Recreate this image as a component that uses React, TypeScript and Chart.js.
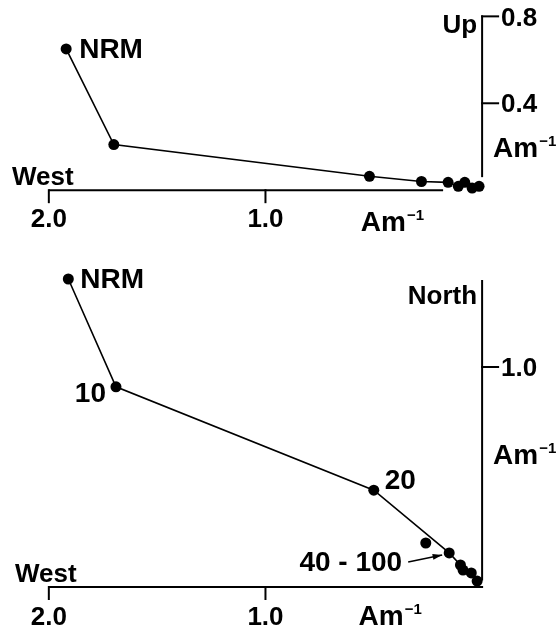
import React, { useEffect, useRef } from "react";
import { Chart, registerables } from "chart.js";

Chart.register(...registerables);

// ---- data (West component magnitude, vertical component), Am^-1 ----
const topWest = [1.92, 1.7, 0.52, 0.28, 0.157, 0.11, 0.08, 0.046, 0.014];
const topUp = [0.65, 0.21, 0.064, 0.04, 0.036, 0.018, 0.036, 0.01, 0.018];
const bottomWest = [1.91, 1.69, 0.5, 0.26, 0.152, 0.1, 0.088, 0.05, 0.023];
const bottomNorth = [1.4, 0.91, 0.44, 0.2, 0.155, 0.1, 0.077, 0.064, 0.027];
const bottomConnected = [true, true, true, false, true, true, true, true, true];
const xTicks = [2.0, 1.0];
const xTickLabels = ["2.0", "1.0"];
const topYTicks = [0.8, 0.4];
const topYTickLabels = ["0.8", "0.4"];
const bottomYTicks = [1.0];
const bottomYTickLabels = ["1.0"];

const FONT = '"Liberation Sans", Arial, Helvetica, sans-serif';

function drawAm(ctx: CanvasRenderingContext2D, x: number, y: number, size: number) {
  ctx.save();
  ctx.textAlign = "left";
  ctx.textBaseline = "alphabetic";
  ctx.font = `bold ${size}px ${FONT}`;
  ctx.fillText("Am", x, y);
  const w = ctx.measureText("Am").width;
  ctx.font = `bold ${Math.round(size * 0.54)}px ${FONT}`;
  ctx.fillText("\u22121", x + w + 1, y - size * 0.4);
  ctx.restore();
}

function line(ctx: CanvasRenderingContext2D, x1: number, y1: number, x2: number, y2: number) {
  ctx.beginPath();
  ctx.moveTo(x1, y1);
  ctx.lineTo(x2, y2);
  ctx.stroke();
}

const topAxesPlugin = {
  id: "topAxes",
  afterDraw(chart: any) {
    const ctx: CanvasRenderingContext2D = chart.ctx;
    const xs = chart.scales.x;
    const ys = chart.scales.y;
    const X = (v: number) => xs.getPixelForValue(v);
    const Y = (v: number) => ys.getPixelForValue(v);
    ctx.save();
    ctx.strokeStyle = "#000";
    ctx.fillStyle = "#000";
    ctx.lineWidth = 2;
    const y0 = Y(0);
    const x0 = X(0);
    line(ctx, X(2.0), y0, X(0.18), y0);
    xTicks.forEach((t) => line(ctx, X(t), y0 - 1, X(t), y0 + 13));
    line(ctx, x0, Y(0.06), x0, Y(0.8) - 1);
    topYTicks.forEach((t) => line(ctx, x0 - 1, Y(t), x0 + 17, Y(t)));
    ctx.font = `bold 26px ${FONT}`;
    ctx.textAlign = "center";
    ctx.textBaseline = "alphabetic";
    xTicks.forEach((t, i) => ctx.fillText(xTickLabels[i], X(t), y0 + 37));
    drawAm(ctx, X(0.56), y0 + 41, 28);
    ctx.textAlign = "left";
    ctx.textBaseline = "middle";
    topYTicks.forEach((t, i) => ctx.fillText(topYTickLabels[i], x0 + 19, Y(t) + 2));
    ctx.textAlign = "right";
    ctx.textBaseline = "alphabetic";
    ctx.fillText("Up", x0 - 5, Y(0.8) + 17);
    drawAm(ctx, x0 + 11, Y(0.4) + 54, 28);
    ctx.textAlign = "left";
    ctx.fillText("West", 12, y0 - 5);
    // point label
    ctx.font = `bold 28px ${FONT}`;
    ctx.textBaseline = "middle";
    ctx.fillText("NRM", X(topWest[0]) + 13, Y(topUp[0]) + 1);
    ctx.restore();
  },
};

const bottomAxesPlugin = {
  id: "bottomAxes",
  afterDraw(chart: any) {
    const ctx: CanvasRenderingContext2D = chart.ctx;
    const xs = chart.scales.x;
    const ys = chart.scales.y;
    const X = (v: number) => xs.getPixelForValue(v);
    const Y = (v: number) => ys.getPixelForValue(v);
    ctx.save();
    ctx.strokeStyle = "#000";
    ctx.fillStyle = "#000";
    ctx.lineWidth = 2;
    const y0 = Y(0);
    const x0 = X(0);
    line(ctx, X(2.0), y0, x0 + 1, y0);
    xTicks.forEach((t) => line(ctx, X(t), y0 - 1, X(t), y0 + 13));
    line(ctx, x0, Y(0.03), x0, Y(1.395));
    bottomYTicks.forEach((t) => line(ctx, x0 - 1, Y(t), x0 + 17, Y(t)));
    ctx.font = `bold 26px ${FONT}`;
    ctx.textAlign = "center";
    ctx.textBaseline = "alphabetic";
    xTicks.forEach((t, i) => ctx.fillText(xTickLabels[i], X(t), y0 + 38));
    drawAm(ctx, X(0.57), y0 + 38, 28);
    ctx.textAlign = "left";
    ctx.textBaseline = "middle";
    bottomYTicks.forEach((t, i) => ctx.fillText(bottomYTickLabels[i], x0 + 19, Y(t) + 2));
    ctx.textAlign = "right";
    ctx.textBaseline = "alphabetic";
    ctx.fillText("North", x0 - 5, Y(1.395) + 24);
    drawAm(ctx, x0 + 11, Y(0.56), 28);
    ctx.textAlign = "left";
    ctx.fillText("West", 15, y0 - 5);
    // point labels
    ctx.font = `bold 28px ${FONT}`;
    ctx.textBaseline = "middle";
    ctx.textAlign = "left";
    ctx.fillText("NRM", X(bottomWest[0]) + 12, Y(bottomNorth[0]) + 1);
    ctx.textAlign = "right";
    ctx.fillText("10", X(bottomWest[1]) - 10, Y(bottomNorth[1]) + 7);
    ctx.textAlign = "left";
    ctx.fillText("20", X(bottomWest[2]) + 11, Y(bottomNorth[2]) - 9);
    const px = X(bottomWest[4]);
    const py = Y(bottomNorth[4]);
    ctx.textAlign = "right";
    ctx.fillText("40 - 100", px - 47, py + 10);
    // arrow
    ctx.lineWidth = 1.5;
    const ax1 = px - 41, ay1 = py + 9, ax2 = px - 7, ay2 = py + 2;
    line(ctx, ax1, ay1, ax2, ay2);
    const ang = Math.atan2(ay2 - ay1, ax2 - ax1);
    ctx.beginPath();
    ctx.moveTo(ax2, ay2);
    ctx.lineTo(ax2 - 10 * Math.cos(ang - 0.3), ay2 - 10 * Math.sin(ang - 0.3));
    ctx.lineTo(ax2 - 10 * Math.cos(ang + 0.3), ay2 - 10 * Math.sin(ang + 0.3));
    ctx.closePath();
    ctx.fill();
    ctx.restore();
  },
};

function baseOptions(yMin: number, yMax: number, pad: any) {
  return {
    animation: false,
    responsive: false,
    maintainAspectRatio: false,
    events: [],
    layout: { padding: pad },
    plugins: { legend: { display: false }, tooltip: { enabled: false }, title: { display: false } },
    scales: {
      x: { type: "linear", reverse: true, min: -0.3, max: 2.2, display: false },
      y: { type: "linear", min: yMin, max: yMax, display: false },
    },
  };
}

function ds(xs: number[], ys: number[], showLine: boolean) {
  return {
    data: xs.map((x, i) => ({ x, y: ys[i] })),
    showLine,
    borderColor: "#000",
    borderWidth: 1.6,
    backgroundColor: "#000",
    pointBackgroundColor: "#000",
    pointBorderColor: "#000",
    pointRadius: 5.5,
    pointBorderWidth: 0,
    clip: false,
  };
}

export default function App() {
  const topRef = useRef<HTMLCanvasElement>(null);
  const botRef = useRef<HTMLCanvasElement>(null);
  useEffect(() => {
    const top = new Chart(topRef.current!, {
      type: "scatter",
      data: { datasets: [ds(topWest, topUp, true)] },
      options: baseOptions(-0.25, 0.85, { left: 4.6, right: 10.9, top: 5, bottom: 3 }) as any,
      plugins: [topAxesPlugin],
    } as any);
    const cx = bottomWest.filter((_, i) => bottomConnected[i]);
    const cy = bottomNorth.filter((_, i) => bottomConnected[i]);
    const ux = bottomWest.filter((_, i) => !bottomConnected[i]);
    const uy = bottomNorth.filter((_, i) => !bottomConnected[i]);
    const bot = new Chart(botRef.current!, {
      type: "scatter",
      data: { datasets: [ds(cx, cy, true), ds(ux, uy, false)] },
      options: baseOptions(-0.15, 1.5, { left: 4.6, right: 10.9, top: 7, bottom: 9 }) as any,
      plugins: [bottomAxesPlugin],
    } as any);
    return () => {
      top.destroy();
      bot.destroy();
    };
  }, []);
  return (
    <div style={{ position: "absolute", left: 0, top: 0, width: 558, height: 629, background: "#fff" }}>
      <canvas ref={topRef} width={558} height={250} style={{ position: "absolute", left: 0, top: 0, width: 558, height: 250 }} />
      <canvas ref={botRef} width={558} height={379} style={{ position: "absolute", left: 0, top: 250, width: 558, height: 379 }} />
    </div>
  );
}
